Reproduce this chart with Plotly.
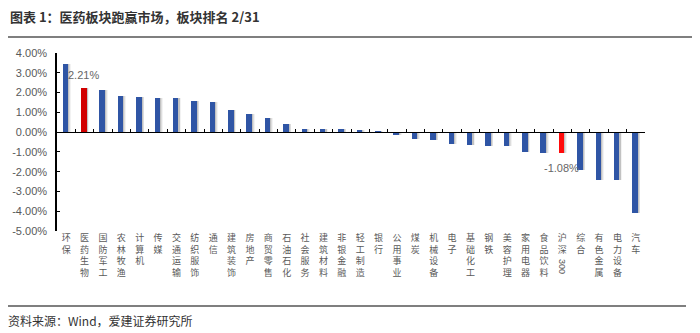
import plotly.graph_objects as go

# 行业板块涨跌幅（%）
categories = ["环保", "医药生物", "国防军工", "农林牧渔", "计算机", "传媒", "交通运输", "纺织服饰",
              "通信", "建筑装饰", "房地产", "商贸零售", "石油石化", "社会服务", "建筑材料", "非银金融",
              "轻工制造", "银行", "公用事业", "煤炭", "机械设备", "电子", "基础化工", "钢铁",
              "美容护理", "家用电器", "食品饮料", "沪深300", "综合", "有色金属", "电力设备", "汽车"]
returns = [3.45, 2.21, 2.13, 1.81, 1.77, 1.74, 1.71, 1.55,
           1.52, 1.13, 0.93, 0.69, 0.39, 0.17, 0.17, 0.17,
           0.13, 0.05, -0.17, -0.34, -0.42, -0.59, -0.64, -0.71,
           -0.71, -1.01, -1.05, -1.08, -1.94, -2.41, -2.44, -4.10]
labelled = ["医药生物", "沪深300"]

y_ticks = [4, 3, 2, 1, 0, -1, -2, -3, -4, -5]
y_tick_text = ["4.00%", "3.00%", "2.00%", "1.00%", "0.00%", "-1.00%", "-2.00%", "-3.00%", "-4.00%", "-5.00%"]

BLUE = "#2F55A5"
colors = []
for c in categories:
    if c == "医药生物":
        colors.append("#D10000")
    elif c == "沪深300":
        colors.append("#FF0A0A")
    else:
        colors.append(BLUE)

x = list(range(len(categories)))
n = len(categories)

# plot area in pixels
ML, MR, MT, MB = 57, 55, 53, 102
W, H = 700, 333
W_PLOT = W - ML - MR
H_PLOT = H - MT - MB


def px_x(px):
    return (px - ML) / W_PLOT


def px_y(py):
    return (H - MB - py) / H_PLOT


def vertical(name):
    if name == "沪深300":
        return "沪<br>深"
    return "<br>".join(list(name))


fig = go.Figure()

# soft drop shadow behind each bar
for off, op in [(-0.05, 0.07), (-0.09, 0.12), (-0.13, 0.18)]:
    fig.add_trace(go.Bar(x=x, y=returns, width=0.3, offset=off,
                         marker=dict(color=f"rgba(70,70,70,{op})", line=dict(width=0)),
                         hoverinfo="skip", showlegend=False))

fig.add_trace(go.Bar(x=x, y=returns, width=0.3, offset=-0.19,
                     marker=dict(color=colors, line=dict(width=0)),
                     showlegend=False))

# zero-line axis carrying the category tick marks
fig.add_trace(go.Scatter(x=[None], y=[None], xaxis="x2", showlegend=False, hoverinfo="skip"))

# value labels for highlighted bars
for name in labelled:
    i = categories.index(name)
    v = returns[i]
    fig.add_annotation(x=i, y=v, xref="x", yref="y",
                       text=f"{v:.2f}%", showarrow=False,
                       yshift=13 if v > 0 else -15, xshift=-1,
                       font=dict(family="Liberation Sans", size=11, color="#666666"))

# rotated "300" under 沪深
fig.add_annotation(x=categories.index("沪深300") - 0.05, y=-0.145, xref="x", yref="paper",
                   text="300", textangle=90, showarrow=False, yanchor="top",
                   font=dict(family="Liberation Sans", size=9, color="#595959"))

# title, source and rules
fig.add_annotation(x=px_x(8), y=px_y(16), xref="paper", yref="paper", xanchor="left", yanchor="middle",
                   text="<b>图表 1：医药板块跑赢市场，板块排名 2/31</b>", showarrow=False,
                   font=dict(family="Noto Sans CJK SC", size=13, color="#333333"))
fig.add_annotation(x=px_x(6), y=px_y(320), xref="paper", yref="paper", xanchor="left", yanchor="middle",
                   text="资料来源：Wind，爱建证券研究所", showarrow=False,
                   font=dict(family="Noto Sans CJK SC", size=12, color="#333333"))
fig.add_shape(type="line", xref="paper", yref="paper", x0=px_x(8), x1=px_x(692),
              y0=px_y(37), y1=px_y(37), line=dict(color="#7F7F7F", width=2))
fig.add_shape(type="line", xref="paper", yref="paper", x0=px_x(8), x1=px_x(686),
              y0=px_y(306), y1=px_y(306), line=dict(color="#7F7F7F", width=2))

fig.update_layout(
    width=W, height=H,
    margin=dict(l=ML, r=MR, t=MT, b=MB),
    paper_bgcolor="white", plot_bgcolor="white",
    barmode="overlay", bargap=0,
    font=dict(family="Noto Sans CJK SC", color="#595959"),
    xaxis=dict(range=[-0.5, n - 0.5], tickmode="array", tickvals=x,
               ticktext=[vertical(c) for c in categories],
               tickfont=dict(family="Noto Sans CJK SC", size=9, color="#595959"),
               showline=False, ticks="", showgrid=False, zeroline=False, tickangle=0),
    xaxis2=dict(range=[-0.5, n - 0.5], overlaying="x", anchor="free", position=5 / 9,
                side="bottom", tickmode="array", tickvals=[i - 0.5 for i in range(n + 1)],
                ticks="inside", ticklen=3, tickcolor="#000000", showticklabels=False,
                showline=True, linecolor="#000000", linewidth=1, showgrid=False, zeroline=False),
    yaxis=dict(range=[-5, 4], tickmode="array", tickvals=y_ticks, ticktext=y_tick_text,
               showline=True, linecolor="#000000", linewidth=1.5, ticks="inside", ticklen=3,
               tickcolor="#000000", showgrid=False, zeroline=False,
               tickfont=dict(family="Liberation Sans", size=11, color="#595959"),
               ticklabelstandoff=6),
)

fig.write_html("out.html")
